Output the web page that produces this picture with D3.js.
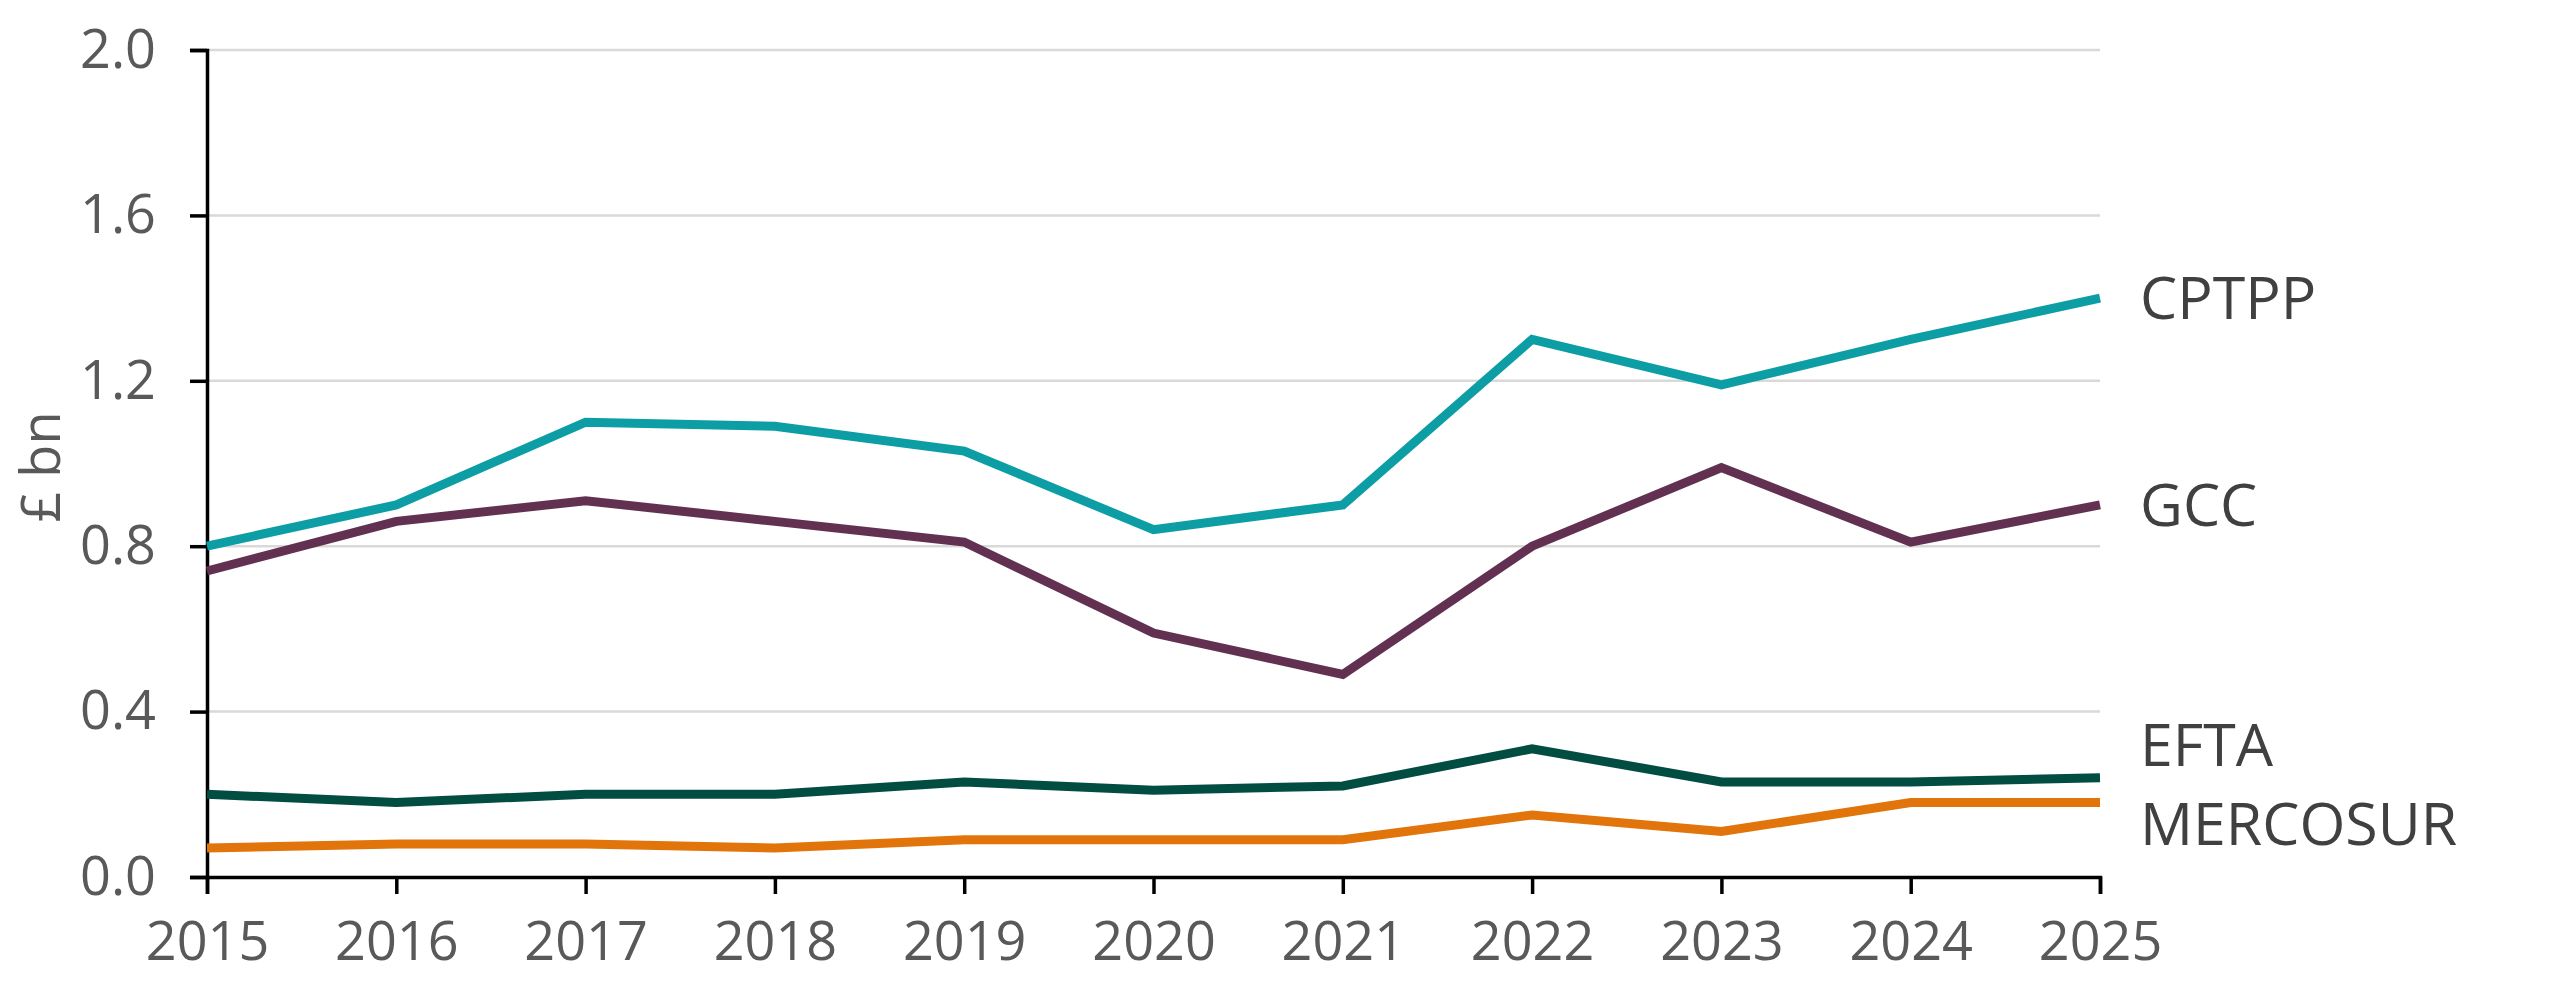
<!DOCTYPE html>
<html>
<head>
<meta charset="utf-8">
<script src="https://cdn.jsdelivr.net/npm/d3@7"></script>
<style>
    body { margin: 0; background: #fff; }
    text { font-family: "Open Sans", sans-serif; }
</style>
</head>
<body>
<div id="svgContainer"></div>
<script>
var years = [2015, 2016, 2017, 2018, 2019, 2020, 2021, 2022, 2023, 2024, 2025]
var seriesNames = ["CPTPP", "GCC", "EFTA", "MERCOSUR"]
var cptpp = [0.80, 0.90, 1.10, 1.09, 1.03, 0.84, 0.90, 1.30, 1.19, 1.30, 1.40]
var gcc = [0.74, 0.86, 0.91, 0.86, 0.81, 0.59, 0.49, 0.80, 0.99, 0.81, 0.90]
var efta = [0.20, 0.18, 0.20, 0.20, 0.23, 0.21, 0.22, 0.31, 0.23, 0.23, 0.24]
var mercosur = [0.07, 0.08, 0.08, 0.07, 0.09, 0.09, 0.09, 0.15, 0.11, 0.18, 0.18]
var yTicks = [0, 0.4, 0.8, 1.2, 1.6, 2.0]
var colors = ["#0c9ea4", "#623152", "#024d42", "#e1750b"]

function getLineChart() {
    let width = 2565, height = 987;
    var margin = { top: 50, right: 465, bottom: 110, left: 207 },
        margin_width = width - margin.left - margin.right,
        margin_height = height - margin.top - margin.bottom;

    var allSeries = [cptpp, gcc, efta, mercosur]

    var svg = d3.select("#svgContainer")
        .append("svg")
        .attr("width", width)
        .attr("height", height)
        .append("g")
        .attr("transform", `translate(${margin.left},${margin.top})`);

    var xScale = d3.scalePoint()
        .domain(years)
        .range([0, margin_width]);
    var yScale = d3.scaleLinear()
        .domain([0, 2])
        .range([margin_height, 0]);

    // gridlines
    svg.append("g")
        .selectAll("line")
        .data(yTicks.filter(d => d > 0))
        .enter()
        .append("line")
        .attr("x1", 0)
        .attr("x2", margin_width)
        .attr("y1", d => yScale(d))
        .attr("y2", d => yScale(d))
        .style("stroke", "#d9d9d9")
        .style("stroke-width", 2.5);

    // y axis
    var yAxis = svg.append("g")
        .attr("class", "axis axis-y")
        .call(d3.axisLeft(yScale).tickValues(yTicks).tickFormat(d3.format(".1f")).tickSize(17).tickPadding(34));
    // x axis
    var xAxis = svg.append("g")
        .attr("class", "axis axis-x")
        .attr("transform", "translate(0," + margin_height + ")")
        .call(d3.axisBottom(xScale).tickSize(17).tickPadding(28));

    [yAxis, xAxis].forEach(a => {
        a.select(".domain").style("stroke", "#000").style("stroke-width", 3.5);
        a.selectAll(".tick line").style("stroke", "#000").style("stroke-width", 3.5);
        a.selectAll(".tick text")
            .style("font-size", "54px")
            .style("fill", "#595959")
            .style("font-family", "Open Sans, sans-serif");
    });

    svg.append("text")
        .attr("transform", "rotate(-90)")
        .attr("x", -417)
        .attr("y", -147)
        .style("text-anchor", "middle")
        .style("font-size", "54px")
        .style("fill", "#595959")
        .text("£ bn");

    // lines
    var line = d3.line()
        .x((d, i) => xScale(years[i]))
        .y(d => yScale(d));
    allSeries.forEach((s, k) => {
        svg.append("path")
            .datum(s)
            .attr("fill", "none")
            .attr("stroke", colors[k])
            .attr("stroke-width", 9)
            .attr("stroke-linejoin", "miter")
            .attr("d", line);
    });

    // end labels, nudged apart where they would collide
    var nudge = [0, 0, -32, 22]
    allSeries.forEach((s, k) => {
        svg.append("text")
            .attr("x", margin_width + 40)
            .attr("y", yScale(s[s.length - 1]) + nudge[k])
            .attr("dy", "0.35em")
            .style("font-size", "59px")
            .style("fill", "#404040")
            .text(seriesNames[k]);
    });
}
getLineChart();
</script>
</body>
</html>
